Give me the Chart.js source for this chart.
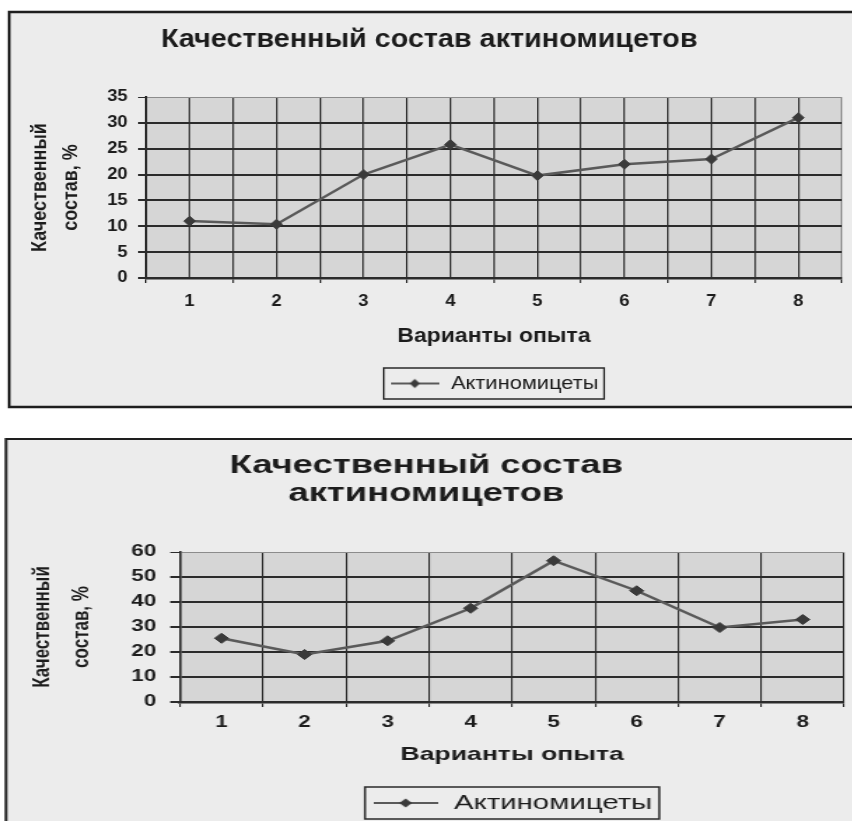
<!DOCTYPE html>
<html>
<head>
<meta charset="utf-8">
<script src="https://cdn.jsdelivr.net/npm/chart.js@4.4.1/dist/chart.umd.min.js"></script>
<style>
     html, body { margin: 0; padding: 0; background: #ffffff; }
     body { width: 852px; height: 821px; position: relative; overflow: hidden; }
     .sheet { position: absolute; left: 0; transform-origin: 0 0; }
     /* the scanned charts are stretched sideways, the bottom one more */
     #sheetTop { top: 0; transform: scaleX(1.15); }
     #sheetBottom { top: 430px; transform: scaleX(1.4); }
</style>
</head>
<body>
<div class="sheet" id="sheetTop"><canvas id="chartTop" width="741" height="412" style="width:741px;height:412px"></canvas></div>
<div class="sheet" id="sheetBottom"><canvas id="chartBottom" width="609" height="394" style="width:609px;height:394px"></canvas></div>
<script>
// data
const variants = [1, 2, 3, 4, 5, 6, 7, 8];
const valuesTop = [11, 10.4, 20, 25.8, 19.8, 22, 23, 31];
const valuesBottom = [25.5, 19, 24.5, 37.5, 56.5, 44.5, 29.8, 33];
const yTicksTop = [0, 5, 10, 15, 20, 25, 30, 35];
const yTicksBottom = [0, 10, 20, 30, 40, 50, 60];

const titleTop = 'Качественный состав актиномицетов';
const titleBottom = ['Качественный состав', 'актиномицетов'];
const yAxisTitle = ['Качественный', 'состав, %'];
const xAxisTitle = 'Варианты опыта';
const seriesName = 'Актиномицеты';

const TEXT = '#1c1c1c';
const GRID = '#2b2b2b';
const LIGHT_EDGE = '#8c8c8c';
const PAPER = '#ececec';
const PLOT = '#d6d6d6';
const LINE = '#5a5a5a';
const POINT = '#3a3a3a';
const FONT = "'Liberation Sans', Arial, sans-serif";

Chart.defaults.font.family = FONT;
Chart.defaults.color = TEXT;

// line with a diamond, as in the legend of the scan
function makeLegendIcon(w) {
     const c = document.createElement('canvas');
     c.width = w;
     c.height = 12;
     const g = c.getContext('2d');
     g.strokeStyle = LINE;
     g.lineWidth = 2;
     g.beginPath();
     g.moveTo(0, 6);
     g.lineTo(w, 6);
     g.stroke();
     g.fillStyle = POINT;
     g.beginPath();
     g.moveTo(w / 2, 1.5);
     g.lineTo(w / 2 + 4.5, 6);
     g.lineTo(w / 2, 10.5);
     g.lineTo(w / 2 - 4.5, 6);
     g.closePath();
     g.fill();
     return c;
}

// paper, frame, plot background and the box round the legend
const scanFrame = {
     id: 'scanFrame',
     beforeDraw(chart, args, o) {
          const { ctx, chartArea: a, width } = chart;
          ctx.save();
          ctx.fillStyle = PAPER;
          ctx.fillRect(o.left, o.top, width - o.left + 10, o.bottom - o.top);
          ctx.strokeStyle = '#1e1e1e';
          ctx.lineWidth = o.lineWidth;
          ctx.strokeRect(o.left, o.top, width - o.left + 10, o.bottom - o.top);
          ctx.fillStyle = PLOT;
          ctx.fillRect(a.left, a.top, a.width, a.height);
          ctx.restore();
     },
     afterDraw(chart, args, o) {
          const box = chart.legend && chart.legend.legendHitBoxes[0];
          if (!box) return;
          const ctx = chart.ctx;
          ctx.save();
          ctx.strokeStyle = '#2a2a2a';
          ctx.lineWidth = 1.5;
          ctx.strokeRect(box.left - o.padX, box.top - o.padY, box.width + 2 * o.padX, box.height + 2 * o.padY);
          ctx.restore();
     }
};

function legendLabels(iconWidth) {
     const icon = makeLegendIcon(iconWidth);
     return function (chart) {
          return Chart.defaults.plugins.legend.labels.generateLabels(chart).map(function (l) {
               l.pointStyle = icon;
               return l;
          });
     };
}

function dataset(values, xs) {
     return {
          label: seriesName,
          data: xs ? values.map((v, i) => ({ x: xs[i], y: v })) : values,
          borderColor: LINE,
          borderWidth: 2.5,
          pointStyle: 'rectRot',
          pointRadius: 5,
          pointBackgroundColor: POINT,
          pointBorderColor: POINT,
          pointBorderWidth: 1,
          tension: 0
     };
}

// top chart: grid lines on every variant and half way between them
const halfSteps = variants.flatMap(v => [v - 0.5, v]).concat([variants[variants.length - 1] + 0.5]);

new Chart(document.getElementById('chartTop'), {
     type: 'line',
     data: { datasets: [dataset(valuesTop, variants)] },
     options: {
          responsive: false,
          animation: false,
          devicePixelRatio: 1,
          layout: { padding: { top: 12, left: 10, right: 4.5, bottom: 9 } },
          plugins: {
               title: {
                    display: true,
                    text: titleTop,
                    color: TEXT,
                    font: { size: 25, weight: 'bold' },
                    padding: { top: 13, bottom: 42 }
               },
               legend: {
                    position: 'bottom',
                    fullSize: false,
                    labels: {
                         usePointStyle: true,
                         pointStyleWidth: 44,
                         color: TEXT,
                         font: { size: 19 },
                         padding: 10,
                         generateLabels: legendLabels(42)
                    }
               },
               tooltip: { enabled: false },
               scanFrame: { left: 8, top: 12, bottom: 407, lineWidth: 2.5, padX: 5, padY: 6 }
          },
          scales: {
               x: {
                    type: 'linear',
                    min: halfSteps[0],
                    max: halfSteps[halfSteps.length - 1],
                    afterBuildTicks: s => { s.ticks = halfSteps.map(v => ({ value: v })); },
                    afterFit: s => { s.height = 86; },
                    ticks: {
                         autoSkip: false,
                         maxRotation: 0,
                         padding: 9,
                         color: TEXT,
                         font: { size: 16, weight: 'bold' },
                         callback: v => (Number.isInteger(v) ? String(v) : '')
                    },
                    grid: {
                         color: c => (c.index === halfSteps.length - 1 ? LIGHT_EDGE : GRID),
                         lineWidth: 1.3,
                         tickLength: 5,
                         tickColor: c => (c.tick && Number.isInteger(c.tick.value) ? 'rgba(0,0,0,0)' : GRID)
                    },
                    border: { display: true, color: GRID, width: 2.5 },
                    title: {
                         display: true,
                         text: xAxisTitle,
                         color: TEXT,
                         font: { size: 20, weight: 'bold' },
                         padding: { top: 0, bottom: 16 }
                    }
               },
               y: {
                    min: yTicksTop[0],
                    max: yTicksTop[yTicksTop.length - 1],
                    afterBuildTicks: s => { s.ticks = yTicksTop.map(v => ({ value: v })); },
                    afterFit: s => { s.width = 117; },
                    ticks: { padding: 9, color: TEXT, font: { size: 16, weight: 'bold' } },
                    grid: {
                         color: c => (c.tick && c.tick.value === yTicksTop[yTicksTop.length - 1] ? LIGHT_EDGE : GRID),
                         lineWidth: c => (c.tick && c.tick.value === yTicksTop[yTicksTop.length - 1] ? 1 : 2),
                         tickLength: 7,
                         tickColor: GRID
                    },
                    border: { display: true, color: GRID, width: 2 },
                    title: {
                         display: true,
                         text: yAxisTitle,
                         color: TEXT,
                         font: { size: 18, weight: 'bold', lineHeight: 1.5 },
                         padding: { top: 11.3, bottom: 0 }
                    }
               }
          }
     },
     plugins: [scanFrame]
});

// bottom chart: grid lines only between the variants
new Chart(document.getElementById('chartBottom'), {
     type: 'line',
     data: { labels: variants.map(String), datasets: [dataset(valuesBottom)] },
     options: {
          responsive: false,
          animation: false,
          devicePixelRatio: 1,
          layout: { padding: { top: 9, left: 4, right: 4, bottom: 0.5 } },
          plugins: {
               title: {
                    display: true,
                    text: titleBottom,
                    color: TEXT,
                    font: { size: 26, weight: 'bold', lineHeight: 1.077 },
                    padding: { top: 13, bottom: 44 }
               },
               legend: {
                    position: 'bottom',
                    fullSize: false,
                    labels: {
                         usePointStyle: true,
                         pointStyleWidth: 48,
                         color: TEXT,
                         font: { size: 21 },
                         padding: 10,
                         generateLabels: legendLabels(46)
                    }
               },
               tooltip: { enabled: false },
               scanFrame: { left: 4.3, top: 9, bottom: 420, lineWidth: 2, padX: 5, padY: 5.5 }
          },
          scales: {
               x: {
                    type: 'category',
                    offset: true,
                    afterFit: s => { s.height = 80.5; },
                    ticks: {
                         autoSkip: false,
                         maxRotation: 0,
                         padding: 6.4,
                         color: TEXT,
                         font: { size: 16, weight: 'bold' }
                    },
                    grid: {
                         offset: true,
                         color: c => (c.index === variants.length ? LIGHT_EDGE : GRID),
                         lineWidth: 1.1,
                         tickLength: 5,
                         tickColor: GRID
                    },
                    border: { display: true, color: GRID, width: 2.5 },
                    title: {
                         display: true,
                         text: xAxisTitle,
                         color: TEXT,
                         font: { size: 19, weight: 'bold' },
                         padding: { top: 0, bottom: 16 }
                    }
               },
               y: {
                    min: yTicksBottom[0],
                    max: yTicksBottom[yTicksBottom.length - 1],
                    afterBuildTicks: s => { s.ticks = yTicksBottom.map(v => ({ value: v })); },
                    afterFit: s => { s.width = 124.6; },
                    ticks: { padding: 10, color: TEXT, font: { size: 16, weight: 'bold' } },
                    grid: {
                         color: c => (c.tick && c.tick.value === yTicksBottom[yTicksBottom.length - 1] ? LIGHT_EDGE : GRID),
                         lineWidth: c => (c.tick && c.tick.value === yTicksBottom[yTicksBottom.length - 1] ? 1 : 2),
                         tickLength: 7,
                         tickColor: GRID
                    },
                    border: { display: true, color: GRID, width: 1.6 },
                    title: {
                         display: true,
                         text: yAxisTitle,
                         color: TEXT,
                         font: { size: 17, weight: 'bold', lineHeight: 1.68 },
                         padding: { top: 11.7, bottom: 0 }
                    }
               }
          }
     },
     plugins: [scanFrame]
});
</script>
</body>
</html>
